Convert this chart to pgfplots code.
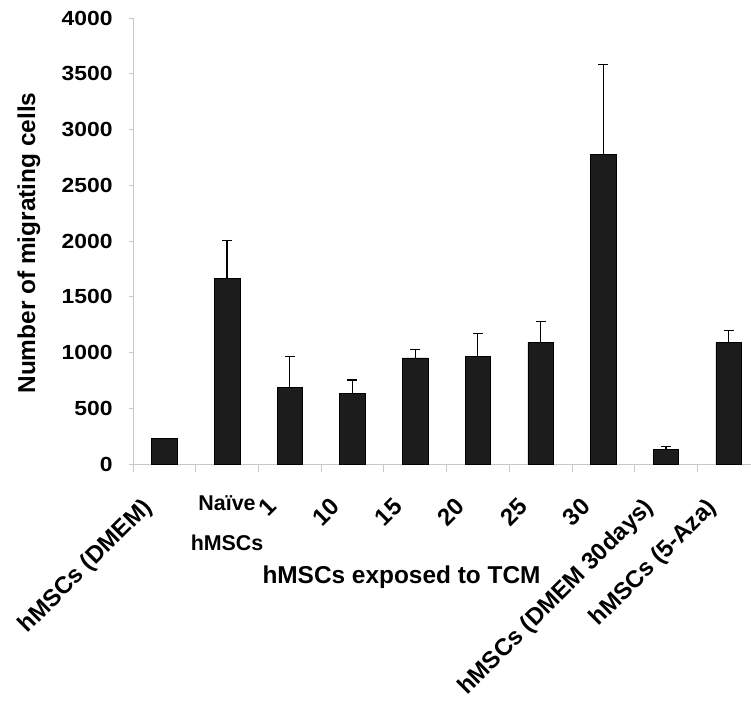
\documentclass[border=0pt]{standalone}
\usepackage{pgfplots}
\pgfplotsset{compat=1.18}
\usepackage{fontspec}
\setmainfont{Liberation Sans}
\newfontfamily\widefont{Liberation Sans}[FakeStretch=1.12]
\definecolor{barfill}{HTML}{1C1C1C}
\definecolor{axisgray}{HTML}{C8C8C8}
\newcommand{\tickfont}{\fontsize{21.5}{26}\selectfont\bfseries}
\newcommand{\rotfont}{\fontsize{24}{28}\selectfont\bfseries}
\newcommand{\ytickfont}{\widefont\fontsize{20.5}{24}\selectfont\bfseries}
\newcommand{\titlefont}{\fontsize{24.5}{28}\selectfont\bfseries}
\begin{document}
\begin{tikzpicture}
\useasboundingbox (0,-705bp) rectangle (751bp,0);
\begin{axis}[
  at={(133bp,-464bp)}, anchor=south west,
  scale only axis, width=627bp, height=446bp,
  xmin=-0.5, xmax=9.5, ymin=0, ymax=4000,
  enlargelimits=false,
  axis x line*=bottom, axis y line*=left,
  axis line style={axisgray, line width=0.8bp},
  tick style={axisgray, line width=0.8bp},
  tick align=outside,
  xtick={-0.5,0.5,...,9.5}, xticklabel=\empty,
  xtick style={/pgfplots/major tick length=8bp},
  ytick style={/pgfplots/major tick length=4bp},
  ytick={0,500,...,4000},
  yticklabels={0,500,1000,1500,2000,2500,3000,3500,4000},
  yticklabel style={font=\ytickfont, inner sep=0pt, anchor=east, text=black, xshift=-16bp},
  clip=false,
]
\addplot[ybar, bar width=25.5bp, fill=barfill, draw=black, line width=0.6bp,
  error bars/.cd, y dir=plus, y explicit,
  error bar style={black, line width=1.2bp},
  error mark options={black, line width=1.2bp, mark size=5bp, rotate=90}]
  coordinates {
  (0,228) +- (0,0)
  (1,1664) +- (0,341)
  (2,685) +- (0,276)
  (3,631) +- (0,123)
  (4,952) +- (0,72)
  (5,963) +- (0,210)
  (6,1089) +- (0,189)
  (7,2774) +- (0,808)
  (8,129) +- (0,27)
  (9,1089) +- (0,105)
  };
\node[rotate=45, anchor=base east, font=\rotfont] at ([xshift=-9bp,yshift=-42bp]axis cs:0,0) {hMSCs (DMEM)};
\node[rotate=45, anchor=base east, font=\rotfont] at ([xshift=-9bp,yshift=-42bp]axis cs:2,0) {1};
\node[rotate=45, anchor=base east, font=\rotfont] at ([xshift=-9bp,yshift=-42bp]axis cs:3,0) {10};
\node[rotate=45, anchor=base east, font=\rotfont] at ([xshift=-9bp,yshift=-42bp]axis cs:4,0) {15};
\node[rotate=45, anchor=base east, font=\rotfont] at ([xshift=-9bp,yshift=-42bp]axis cs:5,0) {20};
\node[rotate=45, anchor=base east, font=\rotfont] at ([xshift=-9bp,yshift=-42bp]axis cs:6,0) {25};
\node[rotate=45, anchor=base east, font=\rotfont] at ([xshift=-9bp,yshift=-42bp]axis cs:7,0) {30};
\node[rotate=45, anchor=base east, font=\rotfont] at ([xshift=-9bp,yshift=-42bp]axis cs:8,0) {hMSCs (DMEM 30days)};
\node[rotate=45, anchor=base east, font=\rotfont] at ([xshift=-9bp,yshift=-42bp]axis cs:9,0) {hMSCs (5-Aza)};
\node[anchor=base, font=\tickfont] at ([yshift=-46bp]axis cs:1,0) {Naïve};
\node[anchor=base, font=\tickfont] at ([yshift=-86bp]axis cs:1,0) {hMSCs};
\end{axis}
\node[anchor=base, font=\titlefont] at (401.5bp,-583bp) {hMSCs exposed to TCM};
\node[rotate=90, anchor=base, font=\titlefont] at (35bp,-243bp) {Number of migrating cells};
\end{tikzpicture}
\end{document}
